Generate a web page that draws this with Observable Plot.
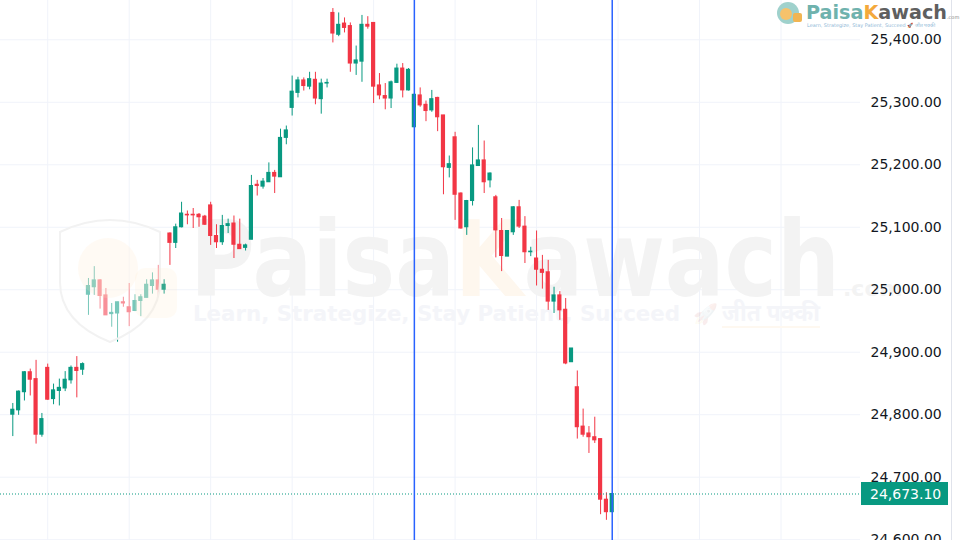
<!DOCTYPE html>
<html><head><meta charset="utf-8">
<script src="https://cdn.jsdelivr.net/npm/d3@7"></script>
<script src="https://cdn.jsdelivr.net/npm/@observablehq/plot@0.6"></script>
<style>
body{margin:0;background:#fff;overflow:hidden}
#chart{position:relative;width:960px;height:540px;overflow:hidden}
</style>
</head><body><div id="chart"></div>
<script>
// OHLC values (one entry per candle, oldest first)
const open = [24800,24807,24836,24868,24857,24768,24875,24825,24838,24842,24855,24875,24872,
  24992,25004,25015,24991,24961,24962,24980,24972,24966,24982,24987,25006,25015,25000,
  25090,25075,25100,25120,25120,25120,25117,25135,25086,25076,25102,25106,25072,25067,25080,25168,25165,25172,25187,25180,25243,
  25291,25315,25335,25325,25336,25305,25330,25443,25408,25426,25422,25362,25365,25424,25427,25327,25310,25306,25331,25354,25319,
  25260,25311,25296,25287,25307,25279,25195,25244,25154,25100,25142,25198,25207,25175,25148,25094,25053,25092,25132,25101,25060,
  25050,25032,25028,24981,24991,24968,24884,24844,24781,24770,24764,24761,24664,24644];
const high = [24818,24838,24869,24873,24887,24802,24881,24849,24857,24869,24878,24893,24883,
  25018,25037,25016,25002,24978,24980,24988,25010,24992,24992,25016,25027,25039,25016,
  25091,25105,25140,25126,25130,25122,25119,25140,25104,25119,25113,25118,25113,25073,25183,25175,25178,25203,25191,25257,25262,
  25342,25340,25339,25348,25348,25337,25337,25450,25443,25435,25427,25390,25439,25437,25427,25346,25330,25334,25361,25362,25354,
  25314,25323,25302,25319,25308,25279,25214,25252,25155,25143,25227,25263,25238,25187,25151,25114,25094,25133,25143,25117,25068,
  25094,25055,25047,25004,24997,24986,24906,24870,24809,24781,24796,24761,24675,24673.1];
const low = [24765,24799,24822,24830,24753,24764,24823,24816,24814,24837,24849,24827,24863,
  24959,24991,24969,24959,24940,24916,24972,24941,24965,24957,24987,24993,24989,24993,
  25039,25066,25099,25104,25098,25100,25103,25071,25066,25071,25090,25050,25065,25062,25080,25150,25161,25172,25154,25180,25232,
  25278,25307,25318,25320,25296,25281,25323,25395,25405,25411,25348,25343,25332,25417,25298,25304,25288,25290,25330,25307,25318,
  25259,25292,25269,25284,25253,25152,25179,25111,25097,25087,25134,25198,25154,25163,25051,25029,25053,25087,25098,25042,25053,
  25006,25001,24967,24962,24951,24880,24884,24761,24764,24738,24754,24640,24631,24643];
const close = [24808,24837,24868,24856,24768,24793,24824,24839,24843,24856,24875,24870,24881,
  25006,25015,24990,24959,24963,24980,24978,24964,24982,24988,25008,25015,25000,25008,
  25075,25100,25122,25119,25119,25116,25104,25086,25076,25102,25105,25072,25065,25071,25166,25166,25173,25187,25181,25243,25255,
  25317,25335,25326,25337,25306,25330,25331,25410,25424,25419,25362,25367,25424,25421,25325,25311,25306,25332,25354,25319,25352,
  25312,25295,25286,25305,25276,25196,25201,25152,25098,25142,25199,25207,25172,25186,25095,25054,25094,25132,25101,25060,25061,
  25032,25027,24981,24991,24967,24882,24906,24780,24768,24764,24759,24664,24644,24673.1];
const priceTicks = [24600,24700,24800,24900,25000,25100,25200,25300,25400];
const lastPrice = 24673.10;
const markerCandles = [69, 103];            // candles with vertical blue markers
const gridCandles = [6,20,34,48,62,76,90,104,118,132];

const UP = "#089981", DOWN = "#F23645";
const candles = open.map((o, i) => ({i, o, h: high[i], l: low[i], c: close[i], up: close[i] >= o}));
const ups = candles.filter(d => d.up), downs = candles.filter(d => !d.up);

const chart = Plot.plot({
  width: 960, height: 540,
  marginLeft: 0, marginRight: 100, marginTop: 0, marginBottom: 0,
  x: {type: "linear", domain: [-2.113, 145.66], axis: null},
  y: {domain: [24598.7, 25462.9], axis: null},
  style: {fontFamily: "'DejaVu Sans', sans-serif", fontSize: "14px", color: "#131722", background: "#fff", overflow: "visible"},
  marks: [
    Plot.ruleX(gridCandles, {stroke: "#f0f3fa", strokeWidth: 1}),
    Plot.ruleY(priceTicks, {stroke: "#f0f3fa", strokeWidth: 1}),
    Plot.ruleX(ups, {x: "i", y1: "l", y2: "h", stroke: UP, strokeWidth: 1}),
    Plot.ruleX(downs, {x: "i", y1: "l", y2: "h", stroke: DOWN, strokeWidth: 1}),
    Plot.rect(ups, {x1: d => d.i - 0.36, x2: d => d.i + 0.36, y1: "o", y2: "c", fill: UP, insetTop: -0.5, insetBottom: -0.5}),
    Plot.rect(downs, {x1: d => d.i - 0.36, x2: d => d.i + 0.36, y1: "o", y2: "c", fill: DOWN, insetTop: -0.5, insetBottom: -0.5}),
    Plot.ruleY([lastPrice], {stroke: UP, strokeWidth: 1, strokeDasharray: "1,2"}),
    Plot.ruleX(markerCandles, {stroke: "#2962ff", strokeWidth: 1.5}),
    Plot.axisY(priceTicks, {anchor: "right", tickSize: 0, tickPadding: 10, tickFormat: d3.format(",.2f"),
      fontSize: 14, fill: "#131722", label: null})
  ]
});
document.getElementById("chart").appendChild(chart);

const svg = d3.select(chart);
const ns = "http://www.w3.org/2000/svg";
const FF = "'DejaVu Sans', sans-serif";
// watermark under the candles
const groups = chart.querySelectorAll(":scope > g");
const wmNode = document.createElementNS(ns, "g");
chart.insertBefore(wmNode, groups[2]);
const wm = d3.select(wmNode).attr("text-anchor", "start");
const big = wm.append("text").attr("x", 190).attr("y", 296)
  .attr("font-family", FF).attr("font-weight", "bold").attr("font-size", 106)
  .attr("textLength", 650).attr("lengthAdjust", "spacingAndGlyphs");
big.append("tspan").attr("fill", "#f3f3f3").text("Paisa");
big.append("tspan").attr("fill", "#fef7ee").text("K");
big.append("tspan").attr("fill", "#f3f3f3").text("awach");
wm.append("text").attr("x", 843).attr("y", 296).attr("font-size", 22).attr("font-weight", "bold")
  .attr("font-family", FF).attr("fill", "#f3f3f3").text(".com");
wm.append("text").attr("x", 193).attr("y", 321).attr("font-size", 21).attr("font-weight", "bold")
  .attr("font-family", FF).attr("fill", "#f4f5f9")
  .attr("textLength", 487).attr("lengthAdjust", "spacingAndGlyphs")
  .text("Learn, Strategize, Stay Patient, Succeed");
wm.append("text").attr("x", 693).attr("y", 321).attr("font-size", 20).attr("opacity", 0.08).text("🚀");
wm.append("text").attr("x", 722).attr("y", 321).attr("font-size", 24).attr("font-weight", "bold")
  .attr("font-family", "'Noto Sans', sans-serif").attr("fill", "#f4f5f9")
  .attr("textLength", 98).attr("lengthAdjust", "spacingAndGlyphs").text("जीत पक्की");
wm.append("rect").attr("x", 722).attr("y", 326).attr("width", 98).attr("height", 2).attr("fill", "#fef8f0");

// faint shield logo overlay (fades candles beneath it)
const shield = svg.append("g");
shield.append("path")
  .attr("d", "M60,232 Q110,208 160,232 L160,282 Q160,322 110,342 Q60,322 60,282 Z")
  .attr("fill", "#ffffff").attr("fill-opacity", 0.45).attr("stroke", "#f2f2f2").attr("stroke-width", 2);
shield.append("circle").attr("cx", 108).attr("cy", 268).attr("r", 30).attr("fill", "#fde8c8").attr("fill-opacity", 0.2);
shield.append("rect").attr("x", 135).attr("y", 268).attr("width", 42).attr("height", 50).attr("rx", 10)
  .attr("fill", "#fde8c8").attr("fill-opacity", 0.18);

// price scale border
svg.append("line").attr("x1", 951.5).attr("x2", 951.5).attr("y1", 0).attr("y2", 540).attr("stroke", "#e0e3eb");

// last price label
const yS = chart.scale("y");
const yl = yS.apply(lastPrice);
svg.append("rect").attr("x", 861).attr("y", yl - 11.5).attr("width", 87).attr("height", 23).attr("fill", UP);
svg.append("text").attr("x", 870).attr("y", yl + 5).attr("fill", "#fff").attr("font-size", 14)
  .attr("text-anchor", "start").attr("font-family", FF).text(d3.format(",.2f")(lastPrice));

// top-right brand logo
const logo = svg.append("g").attr("text-anchor", "start");
logo.append("circle").attr("cx", 788).attr("cy", 13).attr("r", 11).attr("fill", "#9fd1cc");
logo.append("circle").attr("cx", 786).attr("cy", 14).attr("r", 6).attr("fill", "#f6c26b");
logo.append("rect").attr("x", 793).attr("y", 13).attr("width", 9).attr("height", 9).attr("rx", 2).attr("fill", "#f2b552");
const lt = logo.append("text").attr("x", 806).attr("y", 19).attr("font-size", 20).attr("font-weight", "bold")
  .attr("font-family", FF).attr("textLength", 141).attr("lengthAdjust", "spacingAndGlyphs");
lt.append("tspan").attr("fill", "#6fb2ad").text("Paisa");
lt.append("tspan").attr("fill", "#f4a93b").text("K");
lt.append("tspan").attr("fill", "#5f5f5f").text("awach");
logo.append("text").attr("x", 947).attr("y", 19).attr("font-size", 5).attr("fill", "#888")
  .attr("font-family", FF).text(".com");
logo.append("text").attr("x", 807).attr("y", 26.5).attr("font-size", 5).attr("fill", "#8fb8d6")
  .attr("font-family", FF).attr("textLength", 128).attr("lengthAdjust", "spacingAndGlyphs")
  .text("Learn, Strategize, Stay Patient, Succeed 🚀 जीत पक्की");
</script>
</body></html>
